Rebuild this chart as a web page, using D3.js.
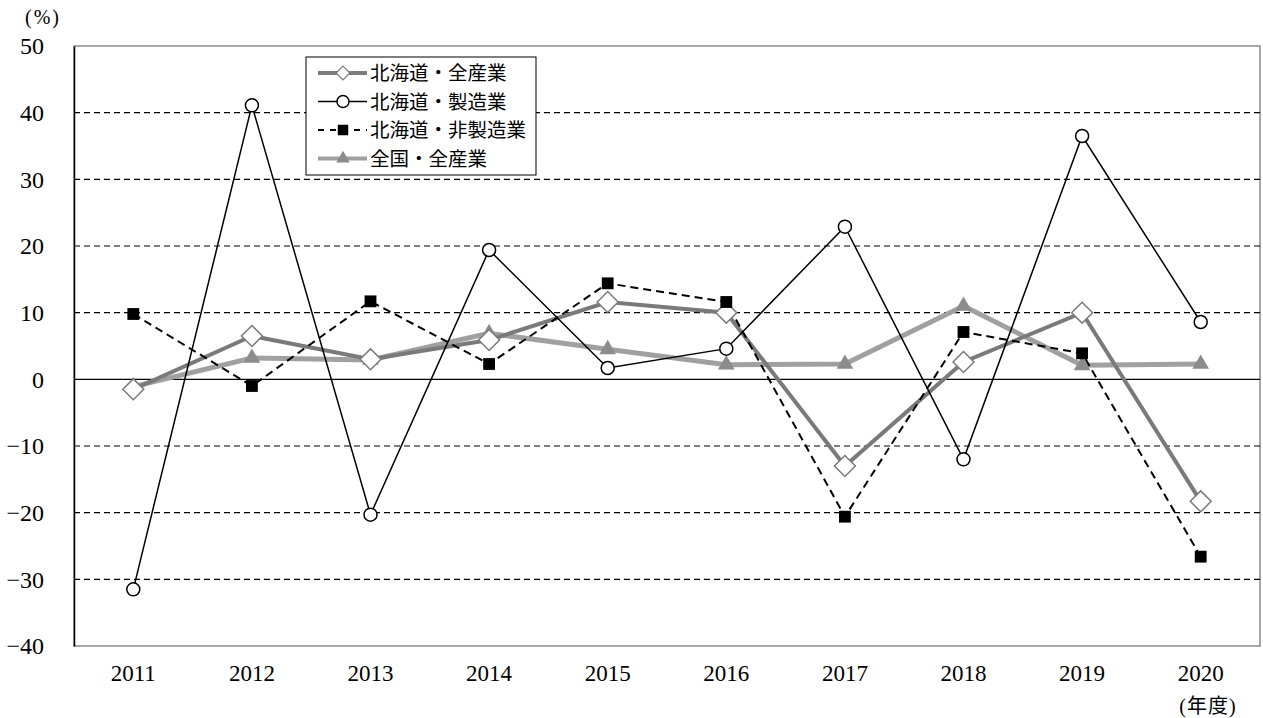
<!DOCTYPE html>
<html>
<head>
<meta charset="utf-8">
<script src="https://cdn.jsdelivr.net/npm/d3@7"></script>
<style>
body { margin: 0; background: #fff; }
</style>
</head>
<body>
<div id="chart"><svg></svg></div>
<script>
var width = 1263, height = 718;
var margins = { left: 74, top: 46, right: 3, bottom: 72 };

var years = ["2011","2012","2013","2014","2015","2016","2017","2018","2019","2020"];
var yTicks = [50, 40, 30, 20, 10, 0, -10, -20, -30, -40];

// 北海道・全産業
var hkAll = [-1.5, 6.5, 3.0, 5.9, 11.6, 10.0, -13.0, 2.6, 10.0, -18.3];
// 北海道・製造業
var hkMfg = [-31.5, 41.1, -20.3, 19.4, 1.7, 4.6, 22.9, -12.0, 36.5, 8.6];
// 北海道・非製造業
var hkNon = [9.8, -1.0, 11.7, 2.3, 14.4, 11.6, -20.6, 7.1, 3.9, -26.6];
// 全国・全産業
var jpAll = [-1.1, 3.2, 2.9, 6.9, 4.5, 2.2, 2.3, 11.0, 2.1, 2.3];

var seriesNames = ["北海道・全産業", "北海道・製造業", "北海道・非製造業", "全国・全産業"];

var svg = d3.select("#chart").select("svg")
    .attr("width", width)
    .attr("height", height);

var x = d3.scaleBand()
    .domain(years)
    .range([margins.left, width - margins.right]);
var y = d3.scaleLinear()
    .domain([-40, 50])
    .range([height - margins.bottom, margins.top]);

// plot border (gray)
svg.append("rect")
    .attr("x", margins.left)
    .attr("y", margins.top)
    .attr("width", width - margins.right - margins.left)
    .attr("height", height - margins.bottom - margins.top)
    .attr("fill", "none")
    .attr("stroke", "#8a8a8a")
    .attr("stroke-width", 1.5);

// grid lines
svg.append("g").selectAll("line")
    .data(yTicks.filter(function(d){ return d !== 50 && d !== -40; }))
    .enter().append("line")
    .attr("x1", margins.left)
    .attr("x2", width - margins.right)
    .attr("y1", function(d){ return y(d); })
    .attr("y2", function(d){ return y(d); })
    .attr("stroke", "#000")
    .attr("stroke-width", 1.2)
    .attr("stroke-dasharray", function(d){ return d === 0 ? null : "6,4"; });

// y axis
var yaxis = d3.axisLeft(y)
    .tickValues(yTicks)
    .tickSize(0)
    .tickPadding(30)
    .tickFormat(function(d){ return d < 0 ? "\u2212" + Math.abs(d) : d; });
var gy = svg.append("g")
    .attr("transform", "translate(" + margins.left + ",0)")
    .call(yaxis)
    .attr("font-family", "Liberation Serif")
    .attr("font-size", 24);
gy.select(".domain").attr("stroke", "#000").attr("stroke-width", 1.5);
gy.selectAll("text").attr("fill", "#000");

// x axis
var xaxis = d3.axisBottom(x).tickSize(0).tickPadding(19);
var gx = svg.append("g")
    .attr("transform", "translate(0," + (height - margins.bottom) + ")")
    .call(xaxis)
    .attr("font-family", "Liberation Serif")
    .attr("font-size", 23);
gx.select(".domain").remove();
gx.selectAll("text").attr("fill", "#000");

svg.append("text")
    .attr("x", 43).attr("y", 24)
    .attr("text-anchor", "middle")
    .attr("font-size", 20)
    .attr("letter-spacing", 2)
    .attr("font-family", "Liberation Serif")
    .text("(%)");
svg.append("text")
    .attr("x", 1208).attr("y", 713)
    .attr("text-anchor", "middle")
    .attr("font-size", 20)
    .attr("letter-spacing", 1)
    .attr("font-family", "Liberation Serif, Noto Sans CJK JP")
    .text("(年度)");

var cx = function(d, i){ return x(years[i]) + x.bandwidth() / 2; };
var line = d3.line()
    .x(function(d, i){ return x(years[i]) + x.bandwidth() / 2; })
    .y(function(d){ return y(d); });

// 全国・全産業
svg.append("path").datum(jpAll).attr("d", line)
    .attr("fill", "none").attr("stroke", "#a0a0a0").attr("stroke-width", 5);
// 北海道・全産業
svg.append("path").datum(hkAll).attr("d", line)
    .attr("fill", "none").attr("stroke", "#7a7a7a").attr("stroke-width", 4);
// 北海道・非製造業
svg.append("path").datum(hkNon).attr("d", line)
    .attr("fill", "none").attr("stroke", "#000").attr("stroke-width", 2)
    .attr("stroke-dasharray", "8,5");
// 北海道・製造業
svg.append("path").datum(hkMfg).attr("d", line)
    .attr("fill", "none").attr("stroke", "#000").attr("stroke-width", 1.5);

var tri = d3.symbol().type(d3.symbolTriangle).size(120);
var dia = d3.symbol().type(d3.symbolDiamond2).size(280);
var sq = d3.symbol().type(d3.symbolSquare).size(140);

svg.append("g").selectAll("path").data(jpAll).enter().append("path")
    .attr("d", tri)
    .attr("transform", function(d, i){ return "translate(" + cx(d, i) + "," + y(d) + ")"; })
    .attr("fill", "#8c8c8c");
svg.append("g").selectAll("path").data(hkAll).enter().append("path")
    .attr("d", dia)
    .attr("transform", function(d, i){ return "translate(" + cx(d, i) + "," + y(d) + ")"; })
    .attr("fill", "#fff").attr("stroke", "#7a7a7a").attr("stroke-width", 1.5);
svg.append("g").selectAll("path").data(hkNon).enter().append("path")
    .attr("d", sq)
    .attr("transform", function(d, i){ return "translate(" + cx(d, i) + "," + y(d) + ")"; })
    .attr("fill", "#000");
svg.append("g").selectAll("circle").data(hkMfg).enter().append("circle")
    .attr("cx", cx)
    .attr("cy", function(d){ return y(d); })
    .attr("r", 6.5)
    .attr("fill", "#fff").attr("stroke", "#000").attr("stroke-width", 1.5);

// legend
var lg = svg.append("g").attr("transform", "translate(306,57)");
lg.append("rect").attr("width", 230).attr("height", 118)
    .attr("fill", "#fff").attr("stroke", "#000").attr("stroke-width", 1);

var legendStyles = [
    { stroke: "#7a7a7a", sw: 4, dash: null },
    { stroke: "#000", sw: 1.5, dash: null },
    { stroke: "#000", sw: 2, dash: "6,6" },
    { stroke: "#a0a0a0", sw: 4, dash: null }
];
var rows = lg.selectAll("g.row").data(seriesNames).enter().append("g")
    .attr("class", "row")
    .attr("transform", function(d, i){ return "translate(0," + (16 + i * 28.5) + ")"; });
rows.append("line")
    .attr("x1", 12).attr("x2", 61)
    .attr("stroke", function(d, i){ return legendStyles[i].stroke; })
    .attr("stroke-width", function(d, i){ return legendStyles[i].sw; })
    .attr("stroke-dasharray", function(d, i){ return legendStyles[i].dash; });
rows.each(function(d, i){
    var g = d3.select(this);
    if (i === 0) g.append("path").attr("d", d3.symbol().type(d3.symbolDiamond2).size(120))
        .attr("transform", "translate(37,0)").attr("fill", "#fff").attr("stroke", "#7a7a7a").attr("stroke-width", 1.2);
    if (i === 1) g.append("circle").attr("cx", 37).attr("r", 6).attr("fill", "#fff").attr("stroke", "#000").attr("stroke-width", 1.5);
    if (i === 2) g.append("path").attr("d", d3.symbol().type(d3.symbolSquare).size(110))
        .attr("transform", "translate(37,0)").attr("fill", "#000");
    if (i === 3) g.append("path").attr("d", d3.symbol().type(d3.symbolTriangle).size(80))
        .attr("transform", "translate(37,0)").attr("fill", "#8c8c8c");
});
rows.append("text")
    .attr("x", 64).attr("y", 7)
    .attr("font-size", 19.5)
    .attr("font-family", "Noto Sans CJK JP")
    .text(function(d){ return d; });
</script>
</body>
</html>
